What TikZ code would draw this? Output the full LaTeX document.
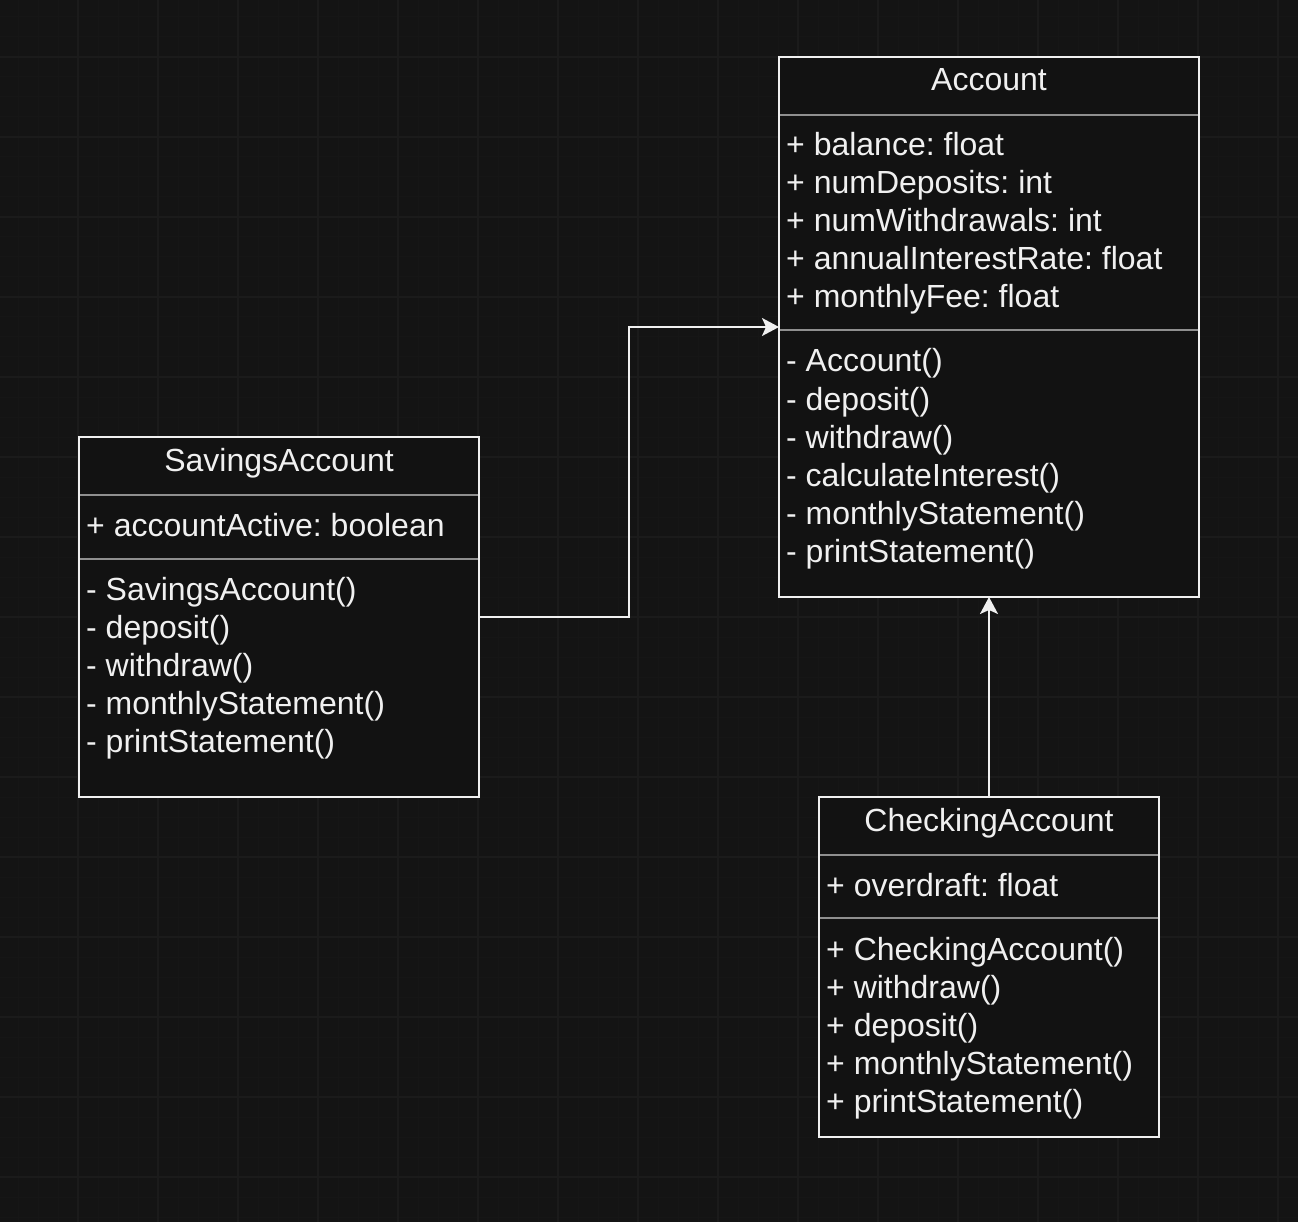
\documentclass[tikz,border=0pt]{standalone}
\usepackage{fontspec}
\setmainfont{Liberation Sans}
\frenchspacing
\usetikzlibrary{arrows.meta,calc}
\definecolor{bgc}{HTML}{141414}
\definecolor{minorc}{HTML}{161616}
\definecolor{majorc}{HTML}{1B1B1B}
\definecolor{boxfill}{HTML}{121212}
\definecolor{fg}{HTML}{F0F0F0}
\definecolor{divc}{HTML}{8F8F8F}
\tikzset{
  umlbox/.style={draw=fg, fill=boxfill, line width=2pt, rectangle, anchor=north west, inner sep=0pt, outer sep=0pt},
  divider/.style={draw=divc, line width=2pt},
  ttl/.style={anchor=base, text=fg, inner sep=0pt, font=\fontsize{32}{38}\selectfont},
  row/.style={anchor=base west, text=fg, inner sep=0pt, font=\fontsize{32}{38}\selectfont},
  conn/.style={draw=fg, line width=2pt, -{Stealth[length=17pt,width=18pt,inset=4pt]}},
}
\begin{document}
\begin{tikzpicture}[x=1pt,y=-1pt]
\useasboundingbox (0,0) rectangle (1298,1222);
\fill[bgc] (0,0) rectangle (1298,1222);
% grid
\foreach \gx in {18,38,...,1298} \draw[minorc,line width=1pt] (\gx,0) -- (\gx,1222);
\foreach \gy in {17,37,...,1222} \draw[minorc,line width=1pt] (0,\gy) -- (1298,\gy);
\foreach \gx in {78,158,...,1298} \draw[majorc,line width=1.5pt] (\gx,0) -- (\gx,1222);
\foreach \gy in {57,137,...,1222} \draw[majorc,line width=1.5pt] (0,\gy) -- (1298,\gy);

% Account
\node[umlbox, minimum width=420pt, minimum height=540pt] (acc) at (779,57) {};
\draw[divider] (780,115) -- (1198,115);
\draw[divider] (780,330) -- (1198,330);
\node[ttl] (acct) at (989,91) {Account};
\node[row] (a1) at (786,156) {+ balance: float};
\node[row] (a2) at (786,194) {+ numDeposits: int};
\node[row] (a3) at (786,232) {+ numWithdrawals: int};
\node[row] (a4) at (786,270) {+ annualInterestRate: float};
\node[row] (a5) at (786,308) {+ monthlyFee: float};
\node[row] (m1) at (786,372) {- Account()};
\node[row] (m2) at (786,410) {- deposit()};
\node[row] (m3) at (786,448) {- withdraw()};
\node[row] (m4) at (786,486) {- calculateInterest()};
\node[row] (m5) at (786,524) {- monthlyStatement()};
\node[row] (m6) at (786,562) {- printStatement()};

% SavingsAccount
\node[umlbox, minimum width=400pt, minimum height=360pt] (sav) at (79,437) {};
\draw[divider] (80,495) -- (478,495);
\draw[divider] (80,559) -- (478,559);
\node[ttl] (savt) at (279,471) {SavingsAccount};
\node[row] (s1) at (86,536) {+ accountActive: boolean};
\node[row] (sm1) at (86,600) {- SavingsAccount()};
\node[row] (sm2) at (86,638) {- deposit()};
\node[row] (sm3) at (86,676) {- withdraw()};
\node[row] (sm4) at (86,714) {- monthlyStatement()};
\node[row] (sm5) at (86,752) {- printStatement()};

% CheckingAccount
\node[umlbox, minimum width=340pt, minimum height=340pt] (chk) at (819,797) {};
\draw[divider] (820,855) -- (1158,855);
\draw[divider] (820,918) -- (1158,918);
\node[ttl] (chkt) at (989,831) {CheckingAccount};
\node[row] (c1) at (826,896) {+ overdraft: float};
\node[row] (cm1) at (826,960) {+ CheckingAccount()};
\node[row] (cm2) at (826,998) {+ withdraw()};
\node[row] (cm3) at (826,1036) {+ deposit()};
\node[row] (cm4) at (826,1074) {+ monthlyStatement()};
\node[row] (cm5) at (826,1112) {+ printStatement()};

% connectors
\coordinate (mid) at ($(sav.east)!0.5!(acc.west)$);
\draw[conn] (sav.east) -| (mid) |- (acc.west);
\draw[conn] (chk.north) -- (acc.south);
\end{tikzpicture}
\end{document}
